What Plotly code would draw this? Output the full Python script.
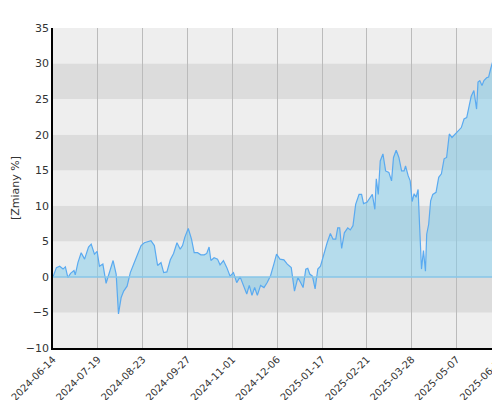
import plotly.graph_objects as go

day_idx = [0,1.9,3.7,5.6,6.9,8.3,9.8,11.7,12.4,13.9,15.7,17.6,19.8,21.3,23.1,24.6,25.9,27.8,29.6,31.5,33.5,35.2,36.5,38.0,39.4,41.3,43.1,45.0,46.9,49.1,50.9,52.8,54.6,56.5,58.3,60.2,61.7,63.5,65.4,67.2,69.1,70.9,72.2,73.5,75.4,77.2,78.7,80.6,82.4,84.3,85.7,87.0,88.0,89.8,91.7,93.1,95.0,96.9,98.7,100.6,102.4,104.3,106.1,108.0,109.4,110.9,112.4,113.9,115.7,117.6,119.4,121.3,123.1,124.6,126.5,128.7,130.6,
           132.8,134.6,136.5,138.0,139.4,140.9,142.0,143.1,144.6,146.1,147.6,149.1,150.9,152.8,154.6,156.1,157.6,158.7,159.8,160.9,162.4,164.3,165.7,167.2,168.7,170.6,172.0,173.1,175.0,176.8,178.0,179.4,180.2,181.3,182.4,183.9,185.4,187.2,188.7,189.8,191.3,192.8,194.3,195.7,196.5,198.0,199.1,200.2,201.3,202.4,203.5,204.3,205.4,206.5,207.6,208.3,209.4,210.5,211.7,213.5,215.0,216.5,218.0,219.4,220.9,222.4,224.3,226.5,227.6,229.1,230.6,232.0,233.1,234.6,236.1,236.9,237.9,239.1,240.2,241.7,242.8,243.9,245.0,246.5,248.0,249.8,250.9,252.0]
change_pct = [0,1.3,1.5,1.1,1.4,-0.1,0.5,0.9,0.3,2.0,3.4,2.5,4.2,4.6,3.2,3.6,1.5,1.8,-0.9,0.6,2.3,0.4,-5.2,-2.9,-2.0,-1.3,0.6,1.8,2.9,4.4,4.8,5.0,5.1,4.4,1.6,2.0,0.6,0.7,2.4,3.3,4.8,3.9,4.4,5.6,6.8,5.3,3.4,3.4,3.1,3.1,3.3,4.2,2.3,2.7,2.5,1.7,2.3,1.3,0.1,0.6,-0.8,0,-1.2,-2.4,-1.2,-2.6,-1.5,-2.6,-1.2,-1.5,-0.8,0.2,1.8,3.2,2.5,2.4,1.8,
              1.3,-2.0,-0.1,-0.8,-1.5,1.1,1.2,0.4,0.1,-1.7,1.1,1.5,3.3,4.8,6.1,5.3,5.3,6.9,6.9,4.0,6.2,6.9,6.6,7.2,10.2,11.6,11.6,10.3,10.5,11.2,11.6,9.5,13.8,11.6,16.3,17.3,14.9,14.7,13.5,16.8,17.8,16.8,14.9,14.9,15.6,14.2,13.5,10.6,11.7,11.2,12.3,7.4,1.1,3.7,0.8,6.0,7.4,10.7,11.6,11.9,14.0,14.5,16.6,16.8,20.1,19.6,20.1,20.6,21.0,22.2,22.4,24.1,25.4,26.2,23.6,27.4,27.6,26.9,27.6,28.0,28.1,29.2,30.2,29.4,29.4,30.3,27.7,29.2]

tick_idx = [0,25,50,75,100,125,150,175,200,225,250]
tick_labels = ["2024-06-14","2024-07-19","2024-08-23","2024-09-27","2024-11-01","2024-12-06",
               "2025-01-17","2025-02-21","2025-03-28","2025-05-07","2025-06-11"]
y_ticks = [-10,-5,0,5,10,15,20,25,30,35]

fig = go.Figure()
fig.add_trace(go.Scatter(x=day_idx, y=change_pct, mode="lines", fill="tozeroy",
                         fillcolor="rgba(135,206,235,0.55)",
                         line=dict(color="#5aaaf0", width=1.2)))

shapes = []
for lo in range(-10, 35, 5):
    col = "#eeeeee" if ((35 - lo) // 5) % 2 == 1 else "#dcdcdc"
    shapes.append(dict(type="rect", xref="paper", yref="y", x0=0, x1=1, y0=lo, y1=lo + 5,
                       fillcolor=col, line_width=0, layer="below"))
shapes.append(dict(type="line", xref="paper", yref="y", x0=0, x1=1, y0=0, y1=0,
                   line=dict(color="#87c6e8", width=1.5)))

fig.update_layout(
    width=500, height=400, margin=dict(l=45, r=2, t=20, b=60, autoexpand=False),
    paper_bgcolor="white", plot_bgcolor="#eeeeee", showlegend=False,
    shapes=shapes, font=dict(family="DejaVu Sans", size=11, color="#333"),
    xaxis=dict(range=[0, 252.5], tickvals=tick_idx, ticktext=tick_labels, tickangle=-45,
               showgrid=True, gridcolor="#bbbbbb", gridwidth=1, zeroline=False,
               showline=True, linecolor="black", linewidth=1.5, ticks="", automargin=False,
               tickfont=dict(size=10), layer="below traces"),
    yaxis=dict(range=[-10, 35], tickvals=y_ticks, showgrid=False, zeroline=False,
               showline=True, linecolor="black", linewidth=1.5, ticks="", automargin=False,
               title=dict(text="[Zmiany %]", font=dict(size=11), standoff=4)),
)
fig.write_html("out.html")
